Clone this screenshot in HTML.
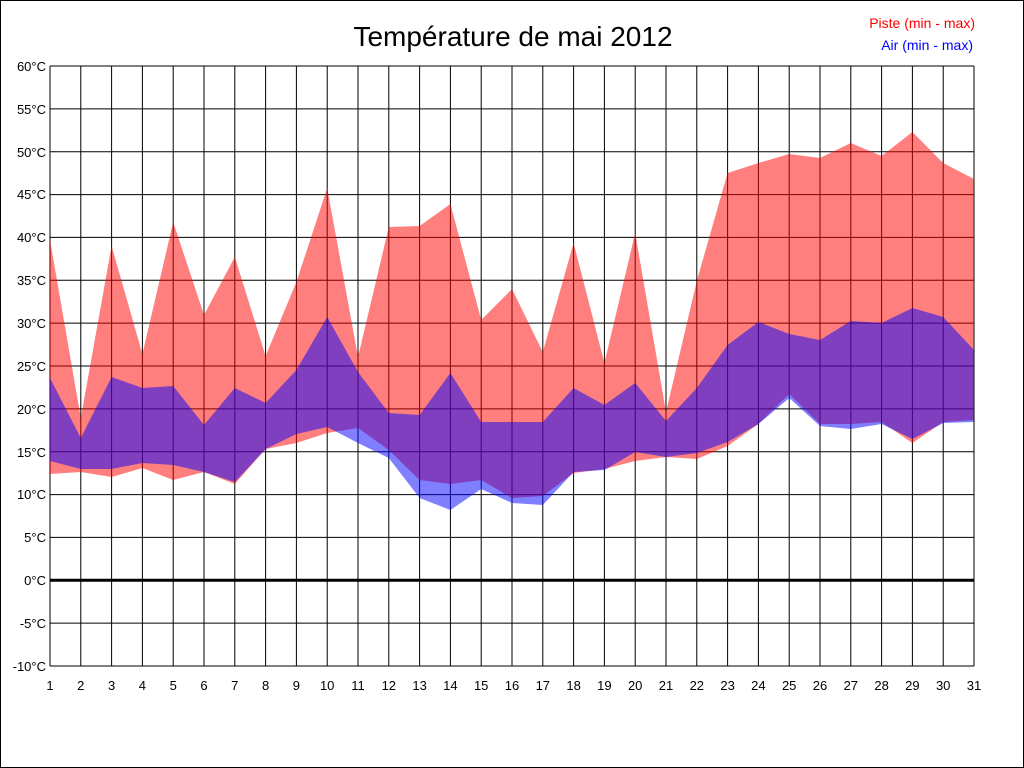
<!DOCTYPE html>
<html><head><meta charset="utf-8"><style>
body{margin:0;background:#fff}
svg{display:block;font-family:"Liberation Sans",sans-serif}
</style></head><body>
<svg width="1024" height="768" viewBox="0 0 1024 768">
<rect x="0.5" y="0.5" width="1023" height="767" fill="#fff" stroke="#000"/>
<g stroke="#000" stroke-width="1">
<line x1="50" y1="66" x2="974" y2="66"/><line x1="50" y1="108.9" x2="974" y2="108.9"/><line x1="50" y1="151.7" x2="974" y2="151.7"/><line x1="50" y1="194.6" x2="974" y2="194.6"/><line x1="50" y1="237.4" x2="974" y2="237.4"/><line x1="50" y1="280.3" x2="974" y2="280.3"/><line x1="50" y1="323.1" x2="974" y2="323.1"/><line x1="50" y1="366" x2="974" y2="366"/><line x1="50" y1="408.9" x2="974" y2="408.9"/><line x1="50" y1="451.7" x2="974" y2="451.7"/><line x1="50" y1="494.6" x2="974" y2="494.6"/><line x1="50" y1="537.4" x2="974" y2="537.4"/><line x1="50" y1="623.1" x2="974" y2="623.1"/><line x1="50" y1="666" x2="974" y2="666"/>
<line x1="50" y1="66" x2="50" y2="666"/><line x1="80.8" y1="66" x2="80.8" y2="666"/><line x1="111.6" y1="66" x2="111.6" y2="666"/><line x1="142.4" y1="66" x2="142.4" y2="666"/><line x1="173.2" y1="66" x2="173.2" y2="666"/><line x1="204" y1="66" x2="204" y2="666"/><line x1="234.8" y1="66" x2="234.8" y2="666"/><line x1="265.6" y1="66" x2="265.6" y2="666"/><line x1="296.4" y1="66" x2="296.4" y2="666"/><line x1="327.2" y1="66" x2="327.2" y2="666"/><line x1="358" y1="66" x2="358" y2="666"/><line x1="388.8" y1="66" x2="388.8" y2="666"/><line x1="419.6" y1="66" x2="419.6" y2="666"/><line x1="450.4" y1="66" x2="450.4" y2="666"/><line x1="481.2" y1="66" x2="481.2" y2="666"/><line x1="512" y1="66" x2="512" y2="666"/><line x1="542.8" y1="66" x2="542.8" y2="666"/><line x1="573.6" y1="66" x2="573.6" y2="666"/><line x1="604.4" y1="66" x2="604.4" y2="666"/><line x1="635.2" y1="66" x2="635.2" y2="666"/><line x1="666" y1="66" x2="666" y2="666"/><line x1="696.8" y1="66" x2="696.8" y2="666"/><line x1="727.6" y1="66" x2="727.6" y2="666"/><line x1="758.4" y1="66" x2="758.4" y2="666"/><line x1="789.2" y1="66" x2="789.2" y2="666"/><line x1="820" y1="66" x2="820" y2="666"/><line x1="850.8" y1="66" x2="850.8" y2="666"/><line x1="881.6" y1="66" x2="881.6" y2="666"/><line x1="912.4" y1="66" x2="912.4" y2="666"/><line x1="943.2" y1="66" x2="943.2" y2="666"/><line x1="974" y1="66" x2="974" y2="666"/>
</g>
<line x1="50" y1="580.3" x2="974" y2="580.3" stroke="#000" stroke-width="3"/>
<polygon fill="rgba(255,0,0,0.5)" points="50,240 80.8,418 111.6,246 142.4,354 173.2,222 204,315 234.8,257 265.6,356 296.4,282 327.2,188 358,357 388.8,227 419.6,226 450.4,204 481.2,320 512,289 542.8,352 573.6,243 604.4,363 635.2,233 666,412 696.8,281 727.6,173 758.4,163 789.2,154 820,158 850.8,143 881.6,156 912.4,132 943.2,163 974,179 974,420 943.2,422 912.4,443 881.6,422 850.8,424 820,424 789.2,394 758.4,424 727.6,446 696.8,459 666,457 635.2,461 604.4,469 573.6,473 542.8,496 512,498 481.2,480 450.4,484 419.6,480 388.8,450 358,428 327.2,433 296.4,443 265.6,449 234.8,484 204,472 173.2,480 142.4,468 111.6,477 80.8,472 50,474"/>
<polygon fill="rgba(0,0,255,0.5)" points="50,378 80.8,438 111.6,377 142.4,388 173.2,386 204,425 234.8,388 265.6,403 296.4,370 327.2,317 358,372 388.8,413 419.6,415 450.4,373 481.2,422 512,422 542.8,422 573.6,388 604.4,405 635.2,383 666,421 696.8,388 727.6,345 758.4,322 789.2,334 820,340 850.8,321 881.6,323 912.4,308 943.2,317 974,350 974,422 943.2,423 912.4,439 881.6,424 850.8,429 820,426 789.2,398 758.4,424 727.6,442 696.8,453 666,457 635.2,452 604.4,470 573.6,472 542.8,505 512,503 481.2,489 450.4,510 419.6,498 388.8,458 358,443 327.2,427 296.4,434 265.6,449 234.8,482 204,472 173.2,465 142.4,463 111.6,469 80.8,469 50,461"/>
<g font-size="13" text-anchor="end" fill="#000">
<text x="46" y="71">60°C</text><text x="46" y="114">55°C</text><text x="46" y="157">50°C</text><text x="46" y="199">45°C</text><text x="46" y="242">40°C</text><text x="46" y="285">35°C</text><text x="46" y="328">30°C</text><text x="46" y="371">25°C</text><text x="46" y="414">20°C</text><text x="46" y="457">15°C</text><text x="46" y="499">10°C</text><text x="46" y="542">5°C</text><text x="46" y="585">0°C</text><text x="46" y="628">-5°C</text><text x="46" y="671">-10°C</text>
</g>
<g font-size="13" text-anchor="middle" fill="#000">
<text x="50" y="690">1</text><text x="80.8" y="690">2</text><text x="111.6" y="690">3</text><text x="142.4" y="690">4</text><text x="173.2" y="690">5</text><text x="204" y="690">6</text><text x="234.8" y="690">7</text><text x="265.6" y="690">8</text><text x="296.4" y="690">9</text><text x="327.2" y="690">10</text><text x="358" y="690">11</text><text x="388.8" y="690">12</text><text x="419.6" y="690">13</text><text x="450.4" y="690">14</text><text x="481.2" y="690">15</text><text x="512" y="690">16</text><text x="542.8" y="690">17</text><text x="573.6" y="690">18</text><text x="604.4" y="690">19</text><text x="635.2" y="690">20</text><text x="666" y="690">21</text><text x="696.8" y="690">22</text><text x="727.6" y="690">23</text><text x="758.4" y="690">24</text><text x="789.2" y="690">25</text><text x="820" y="690">26</text><text x="850.8" y="690">27</text><text x="881.6" y="690">28</text><text x="912.4" y="690">29</text><text x="943.2" y="690">30</text><text x="974" y="690">31</text>
</g>
<text x="513" y="46" font-size="28" text-anchor="middle" fill="#000">Température de mai 2012</text>
<text x="975" y="28" font-size="14" text-anchor="end" fill="#ff0000">Piste (min - max)</text>
<text x="973" y="50" font-size="14" text-anchor="end" fill="#0000ff">Air (min - max)</text>
</svg>
</body></html>
